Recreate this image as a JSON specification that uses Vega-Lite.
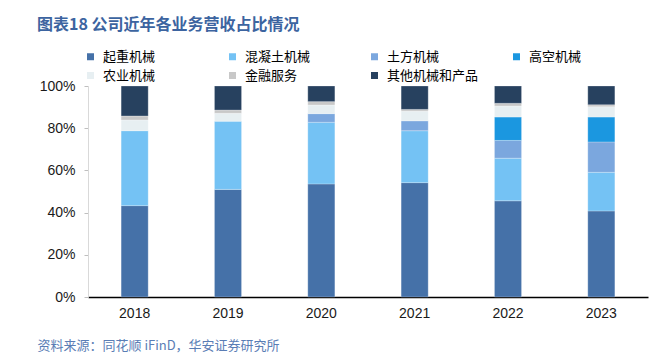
{
  "$schema": "https://vega.github.io/schema/vega-lite/v6.json",
  "width": 560,
  "height": 211,
  "autosize": {"type": "none"},
  "padding": {"left": 88, "top": 86, "right": 18, "bottom": 64},
  "background": "white",
  "title": {
    "text": "图表18 公司近年各业务营收占比情况",
    "anchor": "start",
    "frame": "group",
    "dx": -51,
    "offset": 17,
    "font": "Noto Sans CJK SC",
    "fontSize": 16,
    "fontWeight": "bold",
    "color": "#3C64A0"
  },
  "data": {
    "values": [
      {"year": "2018", "seg": "起重机械", "o": 1, "v": 0.433},
      {"year": "2018", "seg": "混凝土机械", "o": 2, "v": 0.355},
      {"year": "2018", "seg": "农业机械", "o": 5, "v": 0.051},
      {"year": "2018", "seg": "金融服务", "o": 6, "v": 0.019},
      {"year": "2018", "seg": "其他机械和产品", "o": 7, "v": 0.142},
      {"year": "2019", "seg": "起重机械", "o": 1, "v": 0.510},
      {"year": "2019", "seg": "混凝土机械", "o": 2, "v": 0.323},
      {"year": "2019", "seg": "农业机械", "o": 5, "v": 0.038},
      {"year": "2019", "seg": "金融服务", "o": 6, "v": 0.015},
      {"year": "2019", "seg": "其他机械和产品", "o": 7, "v": 0.114},
      {"year": "2020", "seg": "起重机械", "o": 1, "v": 0.536},
      {"year": "2020", "seg": "混凝土机械", "o": 2, "v": 0.292},
      {"year": "2020", "seg": "土方机械", "o": 3, "v": 0.041},
      {"year": "2020", "seg": "农业机械", "o": 5, "v": 0.041},
      {"year": "2020", "seg": "金融服务", "o": 6, "v": 0.016},
      {"year": "2020", "seg": "其他机械和产品", "o": 7, "v": 0.074},
      {"year": "2021", "seg": "起重机械", "o": 1, "v": 0.542},
      {"year": "2021", "seg": "混凝土机械", "o": 2, "v": 0.246},
      {"year": "2021", "seg": "土方机械", "o": 3, "v": 0.047},
      {"year": "2021", "seg": "农业机械", "o": 5, "v": 0.046},
      {"year": "2021", "seg": "金融服务", "o": 6, "v": 0.008},
      {"year": "2021", "seg": "其他机械和产品", "o": 7, "v": 0.111},
      {"year": "2022", "seg": "起重机械", "o": 1, "v": 0.456},
      {"year": "2022", "seg": "混凝土机械", "o": 2, "v": 0.202},
      {"year": "2022", "seg": "土方机械", "o": 3, "v": 0.084},
      {"year": "2022", "seg": "高空机械", "o": 4, "v": 0.111},
      {"year": "2022", "seg": "农业机械", "o": 5, "v": 0.052},
      {"year": "2022", "seg": "金融服务", "o": 6, "v": 0.013},
      {"year": "2022", "seg": "其他机械和产品", "o": 7, "v": 0.082},
      {"year": "2023", "seg": "起重机械", "o": 1, "v": 0.408},
      {"year": "2023", "seg": "混凝土机械", "o": 2, "v": 0.183},
      {"year": "2023", "seg": "土方机械", "o": 3, "v": 0.144},
      {"year": "2023", "seg": "高空机械", "o": 4, "v": 0.118},
      {"year": "2023", "seg": "农业机械", "o": 5, "v": 0.049},
      {"year": "2023", "seg": "金融服务", "o": 6, "v": 0.009},
      {"year": "2023", "seg": "其他机械和产品", "o": 7, "v": 0.089}
    ]
  },
  "mark": {"type": "bar", "stroke": "#ffffff", "strokeWidth": 0.5, "strokeOpacity": 0.5},
  "encoding": {
    "x": {
      "field": "year",
      "type": "nominal",
      "sort": ["2018", "2019", "2020", "2021", "2022", "2023"],
      "scale": {"paddingInner": 0.71, "paddingOuter": 0.355},
      "axis": {
        "labelAngle": 0,
        "ticks": false,
        "domainColor": "#000000",
        "domainWidth": 1.5,
        "labelFont": "Liberation Sans",
        "labelFontSize": 14,
        "labelColor": "#1a1a1a",
        "labelPadding": 9,
        "title": "资料来源：同花顺 iFinD，华安证券研究所",
        "titleAnchor": "start",
        "titleAlign": "left",
        "titleX": -51,
        "titleY": 48,
        "titleBaseline": "middle",
        "titleFont": "Noto Sans CJK SC",
        "titleFontSize": 13,
        "titleFontWeight": "normal",
        "titleColor": "#5A7DB5"
      }
    },
    "y": {
      "field": "v",
      "type": "quantitative",
      "stack": "zero",
      "scale": {"domain": [0, 1], "nice": false},
      "axis": {
        "values": [0, 0.2, 0.4, 0.6, 0.8, 1],
        "format": ".0%",
        "grid": false,
        "title": null,
        "domainColor": "#d9d9d9",
        "tickColor": "#bfbfbf",
        "tickSize": 4,
        "labelPadding": 9,
        "labelFont": "Liberation Sans",
        "labelFontSize": 14,
        "labelColor": "#1a1a1a"
      }
    },
    "color": {
      "field": "seg",
      "type": "nominal",
      "scale": {
        "domain": ["起重机械", "混凝土机械", "土方机械", "高空机械", "农业机械", "金融服务", "其他机械和产品"],
        "range": ["#4571A8", "#74C2F4", "#7BA7DE", "#1B97E0", "#E7EFF2", "#C8C8C8", "#27415F"]
      },
      "legend": {
        "orient": "none",
        "direction": "horizontal",
        "legendX": -4,
        "legendY": -36,
        "columns": 4,
        "gridAlign": "all",
        "columnPadding": 31,
        "rowPadding": 5,
        "title": null,
        "symbolType": "square",
        "symbolSize": 49,
        "symbolStrokeWidth": 0,
        "labelFont": "Noto Sans CJK SC",
        "labelFontSize": 13,
        "labelColor": "#000000",
        "labelOffset": 6,
        "labelLimit": 200
      }
    },
    "order": {"field": "o", "type": "quantitative"}
  },
  "config": {"view": {"stroke": null}}
}
